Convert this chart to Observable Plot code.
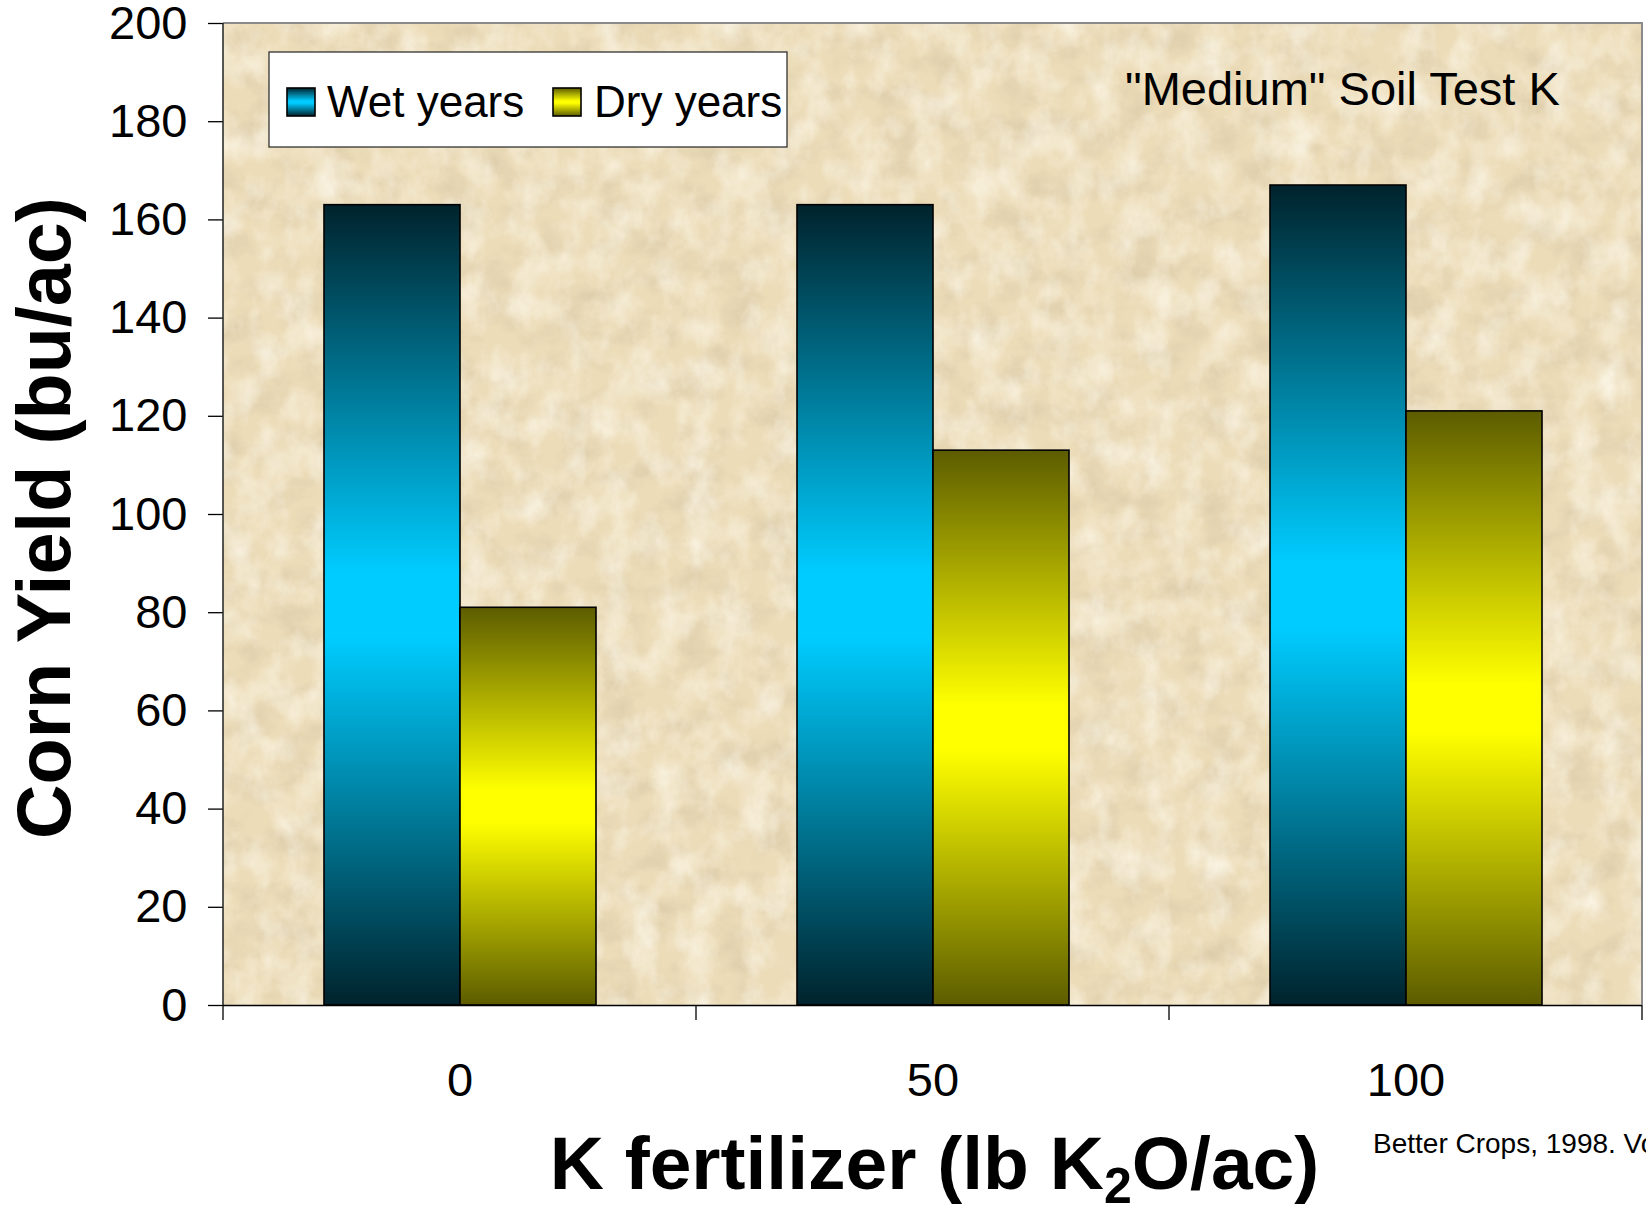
<!DOCTYPE html>
<html><head><meta charset="utf-8">
<script src="https://cdn.jsdelivr.net/npm/d3@7"></script>
<script src="https://cdn.jsdelivr.net/npm/@observablehq/plot@0.6"></script>
<style>
html,body{margin:0;padding:0;background:#fff;overflow:hidden}
#chart svg{display:block}
</style>
</head><body><div id="chart"></div>
<script>
// ---- data ----
const fertilizer = ["0", "50", "100"];          // K fertilizer (lb K2O/ac)
const seriesNames = ["Wet years", "Dry years"];
const wetYield = [163, 163, 167];
const dryYield = [81, 113, 121];
const yTicks = [0, 20, 40, 60, 80, 100, 120, 140, 160, 180, 200];
const yDomain = [0, 200];
const noteText = "\"Medium\" Soil Test K";
const yLabel = "Corn Yield (bu/ac)";
const xLabelParts = ["K fertilizer (lb K", "2", "O/ac)"];
const caption = "Better Crops, 1998. Vol.";

const data = fertilizer.flatMap((k, i) => [
  {k, s: seriesNames[0], v: wetYield[i]},
  {k, s: seriesNames[1], v: dryYield[i]}
]);

const W = 1646, H = 1205;
const FONT = "'Liberation Sans', Arial, Helvetica, sans-serif";

const chart = Plot.plot({
  width: W, height: H,
  marginLeft: 222, marginRight: 4, marginTop: 23, marginBottom: 200,
  style: {fontFamily: FONT, color: "black", background: "white"},
  fx: {domain: fertilizer, padding: 0, axis: null, label: null},
  x: {domain: seriesNames, paddingInner: 0, paddingOuter: 0.733, axis: null},
  y: {domain: yDomain, axis: null},
  color: {domain: seriesNames, range: ["url(#gradWet)", "url(#gradDry)"]},
  marks: [
    Plot.barY(data, {fx: "k", x: "s", y: "v", fill: "s", stroke: "black", strokeWidth: 1.6, inset: 0}),
    Plot.ruleY([0], {stroke: "black", strokeWidth: 1.5}),
    Plot.axisY({ticks: yTicks, tickSize: 15, tickPadding: 21, fontSize: 47, label: null, stroke: "black", strokeWidth: 1.3}),
    Plot.axisFx({anchor: "bottom", tickSize: 0, tickPadding: 57, fontSize: 47, label: null})
  ]
});
document.getElementById("chart").appendChild(chart);

// ---- decorations using the chart's own scales ----
const svg = d3.select(chart);
const fxS = chart.scale("fx"), yS = chart.scale("y");
const x0 = fxS.apply(fertilizer[0]);
const x1 = fxS.apply(fertilizer[fertilizer.length - 1]) + fxS.bandwidth;
const yTop = yS.apply(yDomain[1]), yBot = yS.apply(yDomain[0]);

const defs = svg.insert("defs", ":first-child");
function grad(id, dark, bright) {
  const g = defs.append("linearGradient").attr("id", id)
    .attr("x1", 0).attr("y1", 0).attr("x2", 0).attr("y2", 1);
  [[0, dark], [0.46, bright], [0.54, bright], [1, dark]].forEach(([o, c]) =>
    g.append("stop").attr("offset", o).attr("stop-color", c));
}
grad("gradWet", "#00232c", "#00ccff");
grad("gradDry", "#5c5c00", "#ffff00");

function noise(id, freq, seed, rgb, a, b) {
  const f = defs.append("filter").attr("id", id).attr("filterUnits", "objectBoundingBox")
    .attr("x", 0).attr("y", 0).attr("width", 1).attr("height", 1);
  f.append("feTurbulence").attr("type", "fractalNoise").attr("baseFrequency", freq)
    .attr("numOctaves", 5).attr("seed", seed);
  f.append("feColorMatrix").attr("type", "matrix")
    .attr("values", `0 0 0 0 ${rgb[0]}  0 0 0 0 ${rgb[1]}  0 0 0 0 ${rgb[2]}  ${a} 0 0 0 ${b}`);
}
noise("paperDark", "0.025 0.035", 4, [0.66, 0.55, 0.36], 1.3, -0.56);
noise("paperLight", "0.035 0.025", 11, [1.0, 0.97, 0.88], 1.3, -0.5);

const bgLayer = svg.insert("g", "g");
[["#ecdcb8", null], [null, "paperDark"], [null, "paperLight"]].forEach(([fill, filt]) => {
  const r = bgLayer.append("rect").attr("x", x0).attr("y", yTop)
    .attr("width", x1 - x0).attr("height", yBot - yTop).attr("fill", fill || "#000");
  if (filt) r.attr("filter", `url(#${filt})`);
});

const overLayer = svg.append("g");
overLayer.append("path").attr("d", `M${x0},${yTop}H${x1}V${yBot}`)
  .attr("fill", "none").attr("stroke", "#8a8a8a").attr("stroke-width", 2);
overLayer.append("line").attr("x1", x0).attr("x2", x0).attr("y1", yTop).attr("y2", yBot)
  .attr("stroke", "#222").attr("stroke-width", 1.5);
const edges = fertilizer.map(k => fxS.apply(k)).concat([x1]);
overLayer.selectAll("line.edge").data(edges).join("line").attr("class", "edge")
  .attr("x1", d => d).attr("x2", d => d).attr("y1", yBot).attr("y2", yBot + 15)
  .attr("stroke", "black").attr("stroke-width", 1.3);

// legend
const lg = svg.append("g").attr("font-family", FONT).attr("text-anchor", "start");
lg.append("rect").attr("x", 269).attr("y", 52).attr("width", 518).attr("height", 95)
  .attr("fill", "white").attr("stroke", "#333").attr("stroke-width", 1.3);
const legendX = [[287, 327], [553, 594]];
seriesNames.forEach((name, i) => {
  lg.append("rect").attr("x", legendX[i][0]).attr("y", 88).attr("width", 28).attr("height", 28)
    .attr("fill", i === 0 ? "url(#gradWet)" : "url(#gradDry)").attr("stroke", "black").attr("stroke-width", 1.6);
  lg.append("text").attr("x", legendX[i][1]).attr("y", 117).attr("font-size", 44)
    .attr("text-anchor", "start").attr("fill", "black").text(name);
});

// annotation
svg.append("text").attr("x", 1125).attr("y", 105).attr("font-size", 47).attr("text-anchor", "start")
  .attr("font-family", FONT).attr("fill", "black").text(noteText);

// axis titles
svg.append("text").attr("transform", `translate(70,${(yTop + yBot) / 2 + 4}) rotate(-90)`)
  .attr("text-anchor", "middle").attr("font-size", 75.5).attr("font-weight", "bold")
  .attr("font-family", FONT).attr("fill", "black").text(yLabel);
const xl = svg.append("text").attr("x", (x0 + x1) / 2 + 2).attr("y", 1189)
  .attr("text-anchor", "middle").attr("font-size", 75).attr("font-weight", "bold")
  .attr("font-family", FONT).attr("fill", "black");
xl.append("tspan").text(xLabelParts[0]);
xl.append("tspan").attr("font-size", 50).attr("dy", 14).text(xLabelParts[1]);
xl.append("tspan").attr("dy", -14).text(xLabelParts[2]);

// caption (runs off the right edge, as in the original)
svg.append("text").attr("x", 1373).attr("y", 1153).attr("font-size", 28).attr("text-anchor", "start")
  .attr("font-family", FONT).attr("fill", "black").text(caption);
</script>
</body></html>
